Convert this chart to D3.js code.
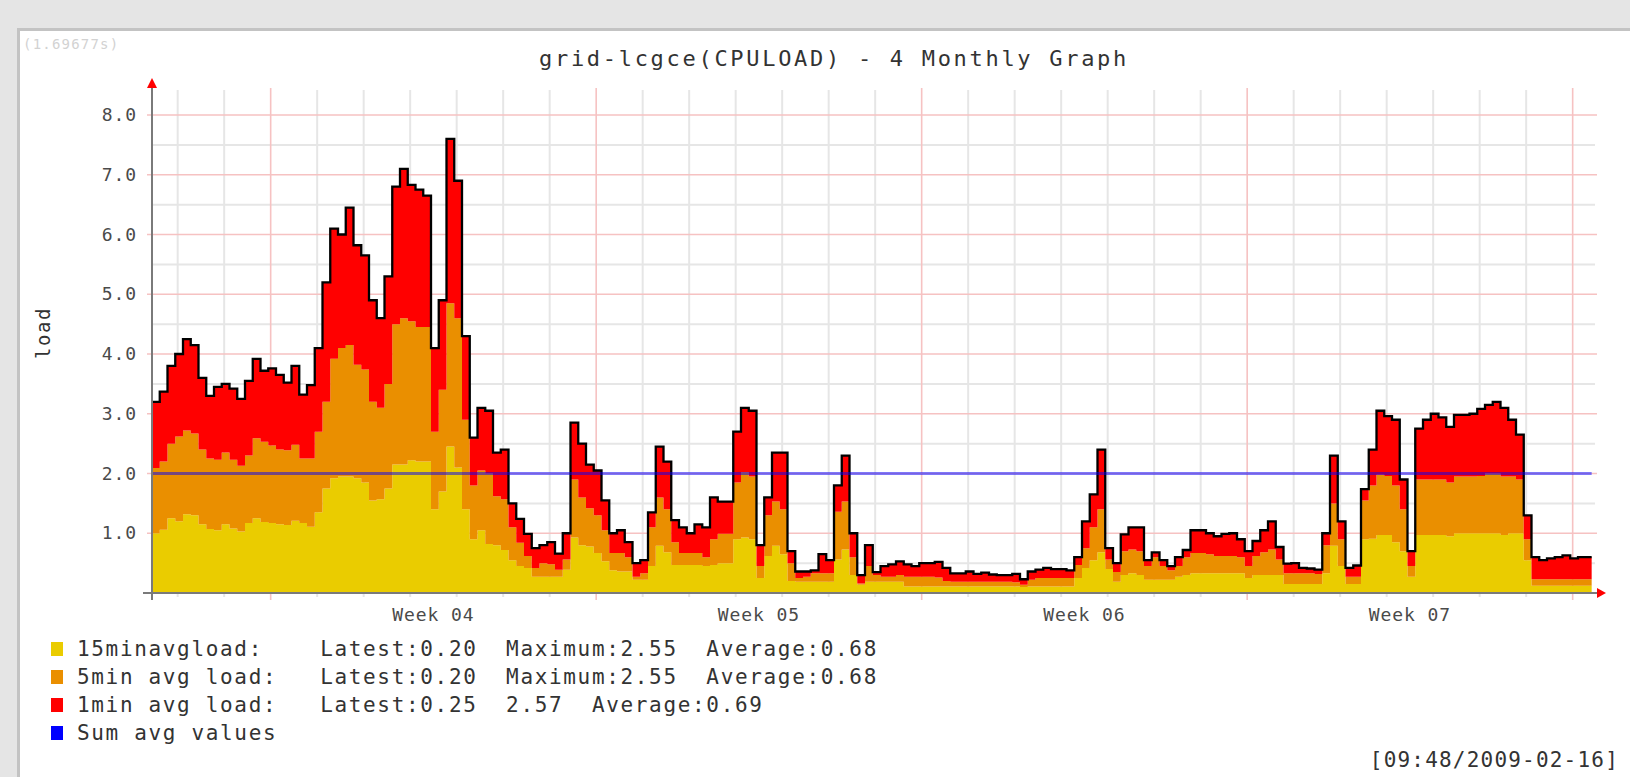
<!DOCTYPE html>
<html><head><meta charset="utf-8">
<script src="https://cdn.jsdelivr.net/npm/d3@7"></script>
<style>
body{margin:0;background:#e5e5e5;}
svg{display:block;}
text{font-family:"DejaVu Sans Mono",monospace;}
</style>
</head><body>
<svg id="c" width="1630" height="777"></svg>
<script>
// ---- data (4-hour samples, stacked: 15min at bottom, then 5min, then 1min) ----
const load15 = [1.0,1.06,1.25,1.2,1.32,1.3,1.15,1.07,1.05,1.15,1.08,1.03,1.17,1.25,1.19,1.17,1.15,1.14,1.21,1.17,
1.11,1.35,1.75,1.92,1.95,1.95,1.92,1.85,1.55,1.57,1.75,2.15,2.15,2.22,2.2,2.2,1.4,1.7,2.45,2.1,
1.4,0.9,1.05,0.82,0.8,0.72,0.55,0.45,0.42,0.27,0.27,0.27,0.27,0.39,0.93,0.8,0.78,0.67,0.53,0.38,
0.36,0.36,0.22,0.22,0.45,0.79,0.68,0.47,0.47,0.47,0.47,0.45,0.47,0.5,0.5,0.9,0.93,0.9,0.25,0.62,
0.79,0.65,0.2,0.19,0.19,0.19,0.19,0.19,0.56,0.73,0.3,0.14,0.19,0.19,0.19,0.19,0.19,0.11,0.11,0.11,
0.11,0.11,0.11,0.11,0.11,0.11,0.11,0.11,0.11,0.11,0.11,0.11,0.1,0.11,0.11,0.11,0.11,0.11,0.11,0.25,
0.42,0.55,0.68,0.4,0.19,0.3,0.33,0.3,0.22,0.22,0.22,0.22,0.27,0.3,0.33,0.33,0.33,0.33,0.33,0.33,
0.33,0.25,0.3,0.3,0.3,0.3,0.15,0.15,0.15,0.15,0.15,0.33,0.79,0.45,0.15,0.15,0.9,0.91,0.97,0.97,
0.85,0.7,0.27,0.97,0.97,0.97,0.97,0.95,1.0,1.0,1.0,1.0,1.0,1.0,0.97,1.0,1.0,0.55,0.12,0.12,
0.12,0.12,0.12,0.12,0.12,0.12];
const load5 = [1.09,1.14,1.25,1.42,1.4,1.37,1.25,1.18,1.18,1.2,1.15,1.1,1.13,1.34,1.34,1.3,1.25,1.25,1.27,1.08,
1.14,1.35,1.45,2.0,2.15,2.2,1.9,1.89,1.65,1.53,1.75,2.35,2.45,2.33,2.25,2.25,1.3,1.7,2.4,2.5,
1.5,0.9,1.0,1.18,0.82,0.85,0.55,0.39,0.2,0.15,0.23,0.21,0.12,0.17,0.97,0.8,0.64,0.63,0.52,0.29,
0.31,0.24,0.05,0.11,0.65,0.81,0.72,0.38,0.2,0.2,0.2,0.15,0.43,0.49,0.49,0.95,1.09,1.05,0.2,0.68,
0.74,0.75,0.3,0.06,0.08,0.14,0.14,0.14,0.8,0.8,0.3,0.02,0.26,0.11,0.08,0.08,0.11,0.16,0.16,0.16,
0.16,0.15,0.09,0.08,0.08,0.08,0.08,0.08,0.08,0.08,0.08,0.07,0.04,0.11,0.14,0.14,0.14,0.14,0.14,0.22,
0.33,0.55,0.72,0.16,0.16,0.4,0.4,0.4,0.23,0.38,0.23,0.16,0.18,0.3,0.34,0.34,0.32,0.29,0.29,0.29,
0.27,0.2,0.32,0.38,0.43,0.26,0.18,0.18,0.18,0.18,0.17,0.47,0.71,0.45,0.12,0.12,0.65,0.89,1.01,0.99,
0.95,0.7,0.18,0.93,0.93,0.93,0.93,0.9,0.95,0.95,0.95,0.96,1.0,1.0,0.98,0.95,0.9,0.35,0.11,0.11,
0.11,0.11,0.11,0.11,0.11,0.11];
const load1 = [1.11,1.17,1.3,1.38,1.53,1.48,1.2,1.05,1.22,1.15,1.19,1.12,1.25,1.33,1.19,1.29,1.25,1.13,1.32,1.07,
1.23,1.4,2.0,2.18,1.9,2.3,2.0,1.91,1.7,1.5,1.8,2.3,2.5,2.28,2.3,2.2,1.4,1.5,2.75,2.3,
1.4,0.8,1.05,1.05,0.73,0.83,0.4,0.4,0.37,0.33,0.3,0.37,0.27,0.44,0.95,0.9,0.73,0.75,0.5,0.33,
0.38,0.25,0.23,0.22,0.25,0.85,0.8,0.37,0.43,0.33,0.48,0.5,0.7,0.54,0.54,0.85,1.08,1.1,0.35,0.3,
0.82,0.95,0.2,0.11,0.09,0.05,0.32,0.22,0.44,0.77,0.4,0.14,0.35,0.05,0.18,0.21,0.23,0.21,0.18,0.23,
0.23,0.26,0.22,0.14,0.14,0.17,0.13,0.15,0.12,0.11,0.11,0.14,0.09,0.14,0.14,0.17,0.15,0.15,0.13,0.13,
0.45,0.55,1.0,0.19,0.15,0.28,0.37,0.4,0.1,0.08,0.1,0.07,0.15,0.12,0.38,0.38,0.35,0.33,0.37,0.38,
0.3,0.25,0.25,0.37,0.47,0.21,0.16,0.17,0.09,0.08,0.07,0.2,0.8,0.3,0.15,0.19,0.19,0.6,1.07,1.0,
1.1,0.5,0.25,0.85,1.0,1.1,1.04,0.93,1.03,1.03,1.05,1.12,1.15,1.2,1.15,0.95,0.75,0.4,0.37,0.32,
0.35,0.37,0.4,0.35,0.37,0.37];
const sumAvg = 2.0;
const yTicks = [1,2,3,4,5,6,7,8];
const weekLabels = ["Week 04","Week 05","Week 06","Week 07"];
const legendNames = ["15minavgload:","5min avg load:","1min avg load:","Sum avg values"];
const legendStats = ["Latest:0.20  Maximum:2.55  Average:0.68","Latest:0.20  Maximum:2.55  Average:0.68","Latest:0.25  2.57  Average:0.69",""];
const colors = ["#EACC00","#EA8F00","#FF0000","#0000FF"];
const titleText = "grid-lcgce(CPULOAD) - 4 Monthly Graph";
const timingText = "(1.69677s)";
const stampText = "[09:48/2009-02-16]";

// ---- layout ----
const svg = d3.select("#c");
const X0 = 152, PX_DAY = 46.5;
const startTime = new Date(2009,0,16,10,45);
const endTime = new Date(2009,1,16,9,48);
const x = d3.scaleTime().domain([startTime, new Date(+startTime + 31*864e5)]).range([X0, X0 + 31*PX_DAY]);
const y = d3.scaleLinear().domain([0,8]).range([593,115]);

// panel
svg.append("rect").attr("x",0).attr("y",0).attr("width",1630).attr("height",777).attr("fill","#e5e5e5");
svg.append("rect").attr("x",18.5).attr("y",29.5).attr("width",1640).attr("height",800)
  .attr("fill","#fff").attr("stroke","#c3c3c3").attr("stroke-width",3);

svg.append("text").attr("x",23).attr("y",49).attr("fill","#d2d2d2").attr("font-size",14)
  .style("letter-spacing","1.2px").text(timingText);

// grid
const g = svg.append("g");
const minorY = d3.range(0.5, 8, 1);
g.selectAll(".gyMinor").data(minorY).join("line")
  .attr("x1",X0).attr("x2",1595).attr("y1",d=>y(d)).attr("y2",d=>y(d))
  .attr("stroke","#e6e6e6").attr("stroke-width",2);
const days = d3.timeDay.range(d3.timeDay.ceil(startTime), endTime);
g.selectAll(".gx").data(days).join("line")
  .attr("x1",d=>x(d)).attr("x2",d=>x(d))
  .attr("y1",d=>d.getDay()===1?88:90).attr("y2",d=>d.getDay()===1?600:597)
  .attr("stroke",d=>d.getDay()===1?"#f6c2c2":"#e6e6e6").attr("stroke-width",d=>d.getDay()===1?1.6:2);
g.selectAll(".gyMajor").data(yTicks).join("line")
  .attr("x1",147).attr("x2",1597).attr("y1",d=>y(d)).attr("y2",d=>y(d))
  .attr("stroke","#f6c2c2").attr("stroke-width",1.6);

// stacked areas
const rows = load15.map((v,i)=>({t:new Date(+startTime + i*4*3600e3), a:load15[i], b:load5[i], c:load1[i]}));
rows.push(Object.assign({}, rows[rows.length-1], {t:endTime}));
const series = d3.stack().keys(["a","b","c"])(rows);
const area = d3.area().curve(d3.curveStepAfter).x(d=>x(d.data.t)).y0(d=>y(d[0])).y1(d=>y(d[1]));
svg.append("g").selectAll("path").data(series).join("path")
  .attr("d",area).attr("fill",(d,i)=>colors[i]);
const outline = d3.line().curve(d3.curveStepAfter).x(d=>x(d.t)).y(d=>y(d.a+d.b+d.c));
svg.append("path").attr("d",outline(rows)).attr("fill","none").attr("stroke","#000").attr("stroke-width",2.3);

// sum avg line
svg.append("line").attr("x1",X0).attr("x2",x(endTime)).attr("y1",y(sumAvg)).attr("y2",y(sumAvg))
  .attr("stroke","#0000ff").attr("stroke-opacity",0.5).attr("stroke-width",3);

// axes
svg.append("line").attr("x1",X0).attr("x2",X0).attr("y1",84).attr("y2",600).attr("stroke","#7a7a7a").attr("stroke-width",2);
svg.append("line").attr("x1",143).attr("x2",1598).attr("y1",593).attr("y2",593).attr("stroke","#7a7a7a").attr("stroke-width",2);
svg.append("path").attr("d",`M${X0-5},88L${X0+5},88L${X0},78Z`).attr("fill","#ff0000");
svg.append("path").attr("d","M1597,588L1597,598L1606,593Z").attr("fill","#ff0000");

// y labels
svg.selectAll(".yl").data(yTicks).join("text")
  .attr("x",137).attr("y",d=>y(d)+6).attr("text-anchor","end").attr("font-size",18)
  .attr("fill","#4a4a4a").style("letter-spacing","0.9px").text(d3.format(".1f"));
svg.append("text").attr("transform","translate(50,333) rotate(-90)").attr("text-anchor","middle")
  .attr("font-size",19).attr("fill","#333").style("letter-spacing","1.5px").text("load");

// week labels
const weekMid = [new Date(2009,0,22,12), new Date(2009,0,29,12), new Date(2009,1,5,12), new Date(2009,1,12,12)];
svg.selectAll(".wl").data(weekLabels).join("text")
  .attr("x",(d,i)=>x(weekMid[i])).attr("y",621).attr("text-anchor","middle").attr("font-size",18)
  .attr("fill","#4a4a4a").style("letter-spacing","0.9px").text(d=>d);

// title
svg.append("text").attr("x",834).attr("y",66).attr("text-anchor","middle").attr("font-size",22)
  .attr("fill","#333").style("letter-spacing","2.7px").text(titleText);

// legend
const lg = svg.append("g");
legendNames.forEach((n,i)=>{
  const yy = 649 + i*28;
  lg.append("rect").attr("x",51).attr("y",yy-7).attr("width",12).attr("height",14).attr("fill",colors[i]);
  const pad = " ".repeat(Math.max(0,17-n.length));
  lg.append("text").attr("x",77).attr("y",yy+7).attr("font-size",21).attr("fill","#333")
    .style("letter-spacing","1.66px").style("white-space","pre").attr("xml:space","preserve")
    .text(n + (legendStats[i] ? pad + legendStats[i] : ""));
});
svg.append("text").attr("x",1619).attr("y",767).attr("text-anchor","end").attr("font-size",21)
  .attr("fill","#333").style("letter-spacing","1.2px").text(stampText);
</script>
</body></html>
